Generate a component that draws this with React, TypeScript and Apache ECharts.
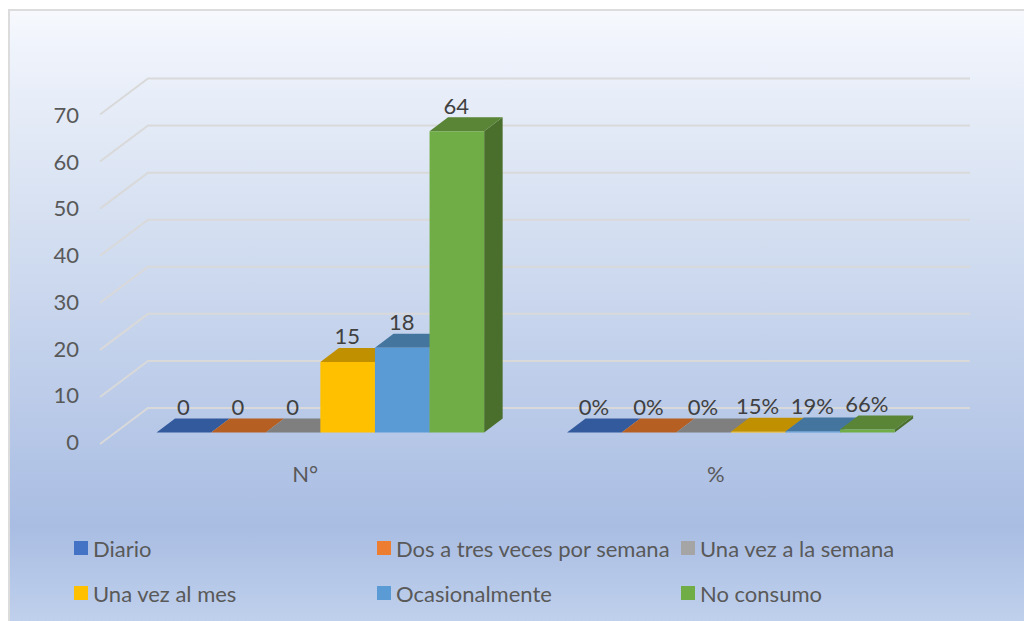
import React, { useEffect, useRef } from "react";
import * as echarts from "echarts";

const categories = ["N°", "%"];
const seriesNames = ["Diario", "Dos a tres veces por semana", "Una vez a la semana", "Una vez al mes", "Ocasionalmente", "No consumo"];
const diario = [0, 0];
const dosATres = [0, 0];
const unaSemana = [0, 0];
const unaMes = [15, 0.15];
const ocasional = [18, 0.19];
const noConsumo = [64, 0.66];
const seriesValues = [diario, dosATres, unaSemana, unaMes, ocasional, noConsumo];
const yTicks = [0, 10, 20, 30, 40, 50, 60, 70];

const frontColors = ["#4472c4", "#ed7d31", "#a5a5a5", "#ffc000", "#5b9bd5", "#70ad47"];
const topColors = ["#325a9c", "#b65f22", "#7f7f7f", "#c09000", "#44759f", "#5a8536"];
const sideColors = ["#2a4a80", "#8f4a1c", "#666666", "#997300", "#37608a", "#4a6f2c"];
const legendSlots = [[74, 537], [377, 537], [681, 537], [74, 582], [377, 582], [681, 582]];

const FONT = "Lato, Carlito, sans-serif";
const FONT_SIZE = 22;
const BAR_W = 54.6;
const MID_DX = 15.1;
const MID_DY = -11.5;
const BAR_DX = 18.5;
const BAR_DY = -14;
const WALL_DX = 48;
const WALL_DY = -36;

function barItem(seriesIndex: number) {
  return (params: any, api: any) => {
    const cat = api.value(0);
    const v = api.value(1);
    const base = api.coord([cat, 0]);
    const top = api.coord([cat, v]);
    const x0 = base[0] + MID_DX + (seriesIndex - 3) * BAR_W;
    const x1 = x0 + BAR_W;
    const yb = base[1] + MID_DY;
    const yt = top[1] + MID_DY;
    const label = cat === 0 ? String(v) : Math.round(v * 100) + "%";
    return {
      type: "group",
      children: [
        { type: "polygon", shape: { points: [[x1, yt], [x1 + BAR_DX, yt + BAR_DY], [x1 + BAR_DX, yb + BAR_DY], [x1, yb]] }, style: { fill: sideColors[seriesIndex] } },
        { type: "polygon", shape: { points: [[x0, yt], [x0 + BAR_DX, yt + BAR_DY], [x1 + BAR_DX, yt + BAR_DY], [x1, yt]] }, style: { fill: topColors[seriesIndex] } },
        { type: "polygon", shape: { points: [[x0, yt], [x1, yt], [x1, yb], [x0, yb]] }, style: { fill: frontColors[seriesIndex] } },
        {
          type: "text",
          z2: 50,
          style: { text: label, x: (x0 + x1) / 2 - 0.5, y: yt + BAR_DY - 12, align: "center", verticalAlign: "middle", fill: "#404040", font: `${FONT_SIZE}px ${FONT}` },
        },
      ],
    };
  };
}

function wallItem(params: any, api: any) {
  const p = api.coord([0, api.value(1)]);
  const cs = params.coordSys;
  return {
    type: "polyline",
    shape: { points: [[cs.x, p[1]], [cs.x + WALL_DX, p[1] + WALL_DY], [cs.x + cs.width + WALL_DX + 1, p[1] + WALL_DY]] },
    style: { stroke: "#d9d9d9", lineWidth: 2, fill: "none" },
  };
}

export default function App() {
  const ref = useRef<HTMLDivElement>(null);
  useEffect(() => {
    const chart = echarts.init(ref.current!, undefined, { renderer: "svg" });
    chart.setOption({
      animation: false,
      backgroundColor: "#ffffff",
      textStyle: { fontFamily: FONT },
      graphic: [
        {
          type: "rect",
          z: -1,
          silent: true,
          shape: { x: 9, y: 10, width: 1030, height: 630 },
          style: {
            stroke: "#dcdcdc",
            lineWidth: 2,
            fill: new echarts.graphic.LinearGradient(0, 0, 0, 1, [
              { offset: 0, color: "#f7f9fd" },
              { offset: 0.05, color: "#f0f4fc" },
              { offset: 0.3, color: "#d8e2f2" },
              { offset: 0.82, color: "#a9bde3" },
              { offset: 1, color: "#c4d4ee" },
            ]),
          },
        },
      ],
      legend: seriesNames.map((name, i) => ({
        data: [name],
        left: legendSlots[i][0],
        top: legendSlots[i][1],
        padding: 0,
        itemWidth: 14,
        itemHeight: 14,
        icon: "rect",
        selectedMode: false,
        textStyle: { color: "#595959", fontSize: FONT_SIZE, fontFamily: FONT },
      })),
      grid: [
        { left: 100, width: 821, top: 114.5, height: 329.5, containLabel: false },
        { left: 100, width: 821, top: 114.5, height: 327, containLabel: false },
      ],
      xAxis: [
        {
          type: "category",
          gridIndex: 0,
          data: categories,
          axisLine: { show: false },
          axisTick: { show: false },
          axisLabel: { color: "#595959", fontSize: FONT_SIZE, margin: 18, fontFamily: FONT },
        },
        { type: "category", gridIndex: 1, data: categories, show: false },
      ],
      yAxis: [
        { type: "value", gridIndex: 0, min: 0, max: 70, interval: 10, show: false },
        {
          type: "value",
          gridIndex: 1,
          min: 0,
          max: 70,
          interval: 10,
          axisLine: { show: false },
          axisTick: { show: false },
          splitLine: { show: false },
          axisLabel: { color: "#595959", fontSize: FONT_SIZE, margin: 21, fontFamily: FONT },
        },
      ],
      series: [
        {
          type: "custom",
          name: "wall",
          silent: true,
          clip: false,
          z: 1,
          xAxisIndex: 0,
          yAxisIndex: 0,
          renderItem: wallItem,
          encode: { x: 0, y: 1 },
          data: yTicks.map((t) => [0, t]),
        },
        ...seriesNames.map((name, i) => ({
          type: "custom",
          name,
          silent: true,
          clip: false,
          z: 2,
          xAxisIndex: 0,
          yAxisIndex: 0,
          itemStyle: { color: frontColors[i] },
          renderItem: barItem(i),
          encode: { x: 0, y: 1 },
          data: seriesValues[i].map((v, c) => [c, v]),
        })),
      ],
    });
    return () => chart.dispose();
  }, []);
  return <div ref={ref} style={{ position: "fixed", left: 0, top: 0, width: 1024, height: 621 }} />;
}
